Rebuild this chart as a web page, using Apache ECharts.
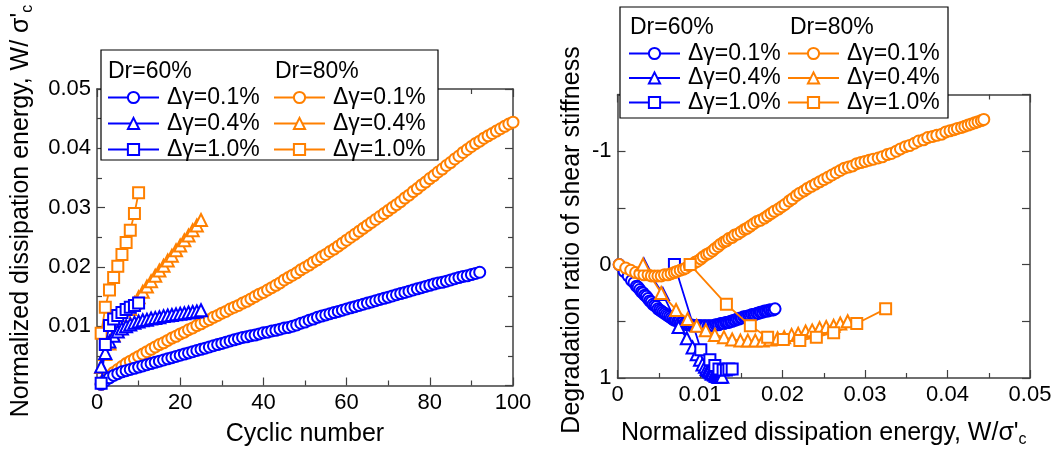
<!DOCTYPE html>
<html>
<head>
<meta charset="utf-8">
<title>Dissipation energy and shear stiffness degradation</title>
<script src="https://cdn.jsdelivr.net/npm/echarts@6/dist/echarts.min.js"></script>
<style>
  html, body { margin: 0; padding: 0; background: #fff; }
  #chart { width: 1058px; height: 453px; }
</style>
</head>
<body>
<div id="chart"></div>
<script>
// normalized dissipation energy W/σ'c per cycle (cycle number = index + 1)
const cycW60_01 = [
  0.0002, 0.0008, 0.0013, 0.0017, 0.0020, 0.0023, 0.0025, 0.0027, 0.0029, 0.0031,
  0.0033, 0.0035, 0.0037, 0.0039, 0.0041, 0.0043, 0.0045, 0.0047, 0.0049, 0.0051,
  0.0053, 0.0055, 0.0057, 0.0059, 0.0061, 0.0063, 0.0065, 0.0067, 0.0069, 0.0071,
  0.0073, 0.0075, 0.0077, 0.0079, 0.0081, 0.0082, 0.0084, 0.0085, 0.0087, 0.0089,
  0.0090, 0.0092, 0.0093, 0.0095, 0.0097, 0.0098, 0.0100, 0.0102, 0.0105, 0.0107,
  0.0110, 0.0112, 0.0115, 0.0117, 0.0119, 0.0121, 0.0123, 0.0125, 0.0127, 0.0129,
  0.0131, 0.0133, 0.0135, 0.0137, 0.0139, 0.0141, 0.0143, 0.0145, 0.0147, 0.0149,
  0.0151, 0.0153, 0.0155, 0.0157, 0.0159, 0.0161, 0.0163, 0.0165, 0.0167, 0.0169,
  0.0171, 0.0173, 0.0174, 0.0176, 0.0178, 0.0180, 0.0182, 0.0184, 0.0185, 0.0187,
  0.0189, 0.0191
];
const cycW60_04 = [
  0.0032, 0.0055, 0.0074, 0.0084, 0.0091, 0.0096, 0.0100, 0.0103, 0.0106, 0.0108,
  0.0110, 0.0111, 0.0113, 0.0114, 0.0115, 0.0117, 0.0118, 0.0119, 0.0120, 0.0121,
  0.0122, 0.0123, 0.0124, 0.0125, 0.0127
];
const cycW60_10 = [0.0004, 0.0069, 0.0101, 0.0112, 0.0118, 0.0123, 0.0128, 0.0132, 0.0135, 0.0139];
const cycW80_01 = [
  0.0002, 0.0010, 0.0016, 0.0022, 0.0027, 0.0032, 0.0037, 0.0041, 0.0045, 0.0049,
  0.0053, 0.0057, 0.0061, 0.0065, 0.0069, 0.0072, 0.0076, 0.0080, 0.0083, 0.0087,
  0.0090, 0.0094, 0.0097, 0.0101, 0.0104, 0.0108, 0.0111, 0.0115, 0.0118, 0.0122,
  0.0125, 0.0129, 0.0132, 0.0135, 0.0139, 0.0142, 0.0146, 0.0150, 0.0154, 0.0157,
  0.0161, 0.0165, 0.0169, 0.0173, 0.0178, 0.0182, 0.0186, 0.0190, 0.0195, 0.0199,
  0.0203, 0.0208, 0.0212, 0.0217, 0.0221, 0.0226, 0.0230, 0.0235, 0.0240, 0.0245,
  0.0250, 0.0255, 0.0260, 0.0265, 0.0270, 0.0275, 0.0280, 0.0285, 0.0290, 0.0295,
  0.0300, 0.0305, 0.0310, 0.0316, 0.0321, 0.0327, 0.0332, 0.0338, 0.0343, 0.0349,
  0.0354, 0.0360, 0.0365, 0.0371, 0.0376, 0.0382, 0.0387, 0.0393, 0.0398, 0.0403,
  0.0408, 0.0412, 0.0417, 0.0421, 0.0425, 0.0429, 0.0433, 0.0437, 0.0441, 0.0444
];
const cycW80_04 = [
  0.0031, 0.0053, 0.0071, 0.0085, 0.0096, 0.0107, 0.0118, 0.0129, 0.0139, 0.0149,
  0.0158, 0.0167, 0.0176, 0.0185, 0.0194, 0.0202, 0.0211, 0.0219, 0.0228, 0.0236,
  0.0245, 0.0253, 0.0262, 0.0270, 0.0279
];
const cycW80_10 = [0.0088, 0.0132, 0.0161, 0.0182, 0.0201, 0.0221, 0.0241, 0.0262, 0.0290, 0.0325];

// degradation ratio of shear stiffness, same points as above (null = not plotted)
const deg60_01 = [
  0.00, 0.06, 0.10, 0.14, 0.16, 0.19, 0.20, 0.22, 0.24, 0.25,
  0.27, 0.28, 0.30, 0.32, 0.33, 0.35, 0.36, 0.37, 0.39, 0.40,
  0.41, 0.42, 0.43, 0.44, 0.45, 0.46, 0.47, 0.48, 0.49, 0.49,
  0.50, 0.50, 0.51, 0.51, 0.52, 0.52, 0.53, 0.53, 0.53, 0.53,
  0.54, 0.54, 0.54, 0.54, 0.54, 0.54, 0.54, 0.54, 0.54, 0.54,
  0.54, 0.54, 0.54, 0.54, 0.53, 0.53, 0.53, 0.52, 0.52, 0.52,
  0.51, 0.51, 0.51, 0.50, 0.50, 0.49, 0.49, 0.48, 0.48, 0.47,
  0.47, 0.46, 0.46, 0.46, 0.45, 0.45, 0.44, 0.44, 0.44, 0.43,
  0.43, 0.42, 0.42, 0.42, 0.41, 0.41, 0.41, 0.40, 0.40, 0.40,
  0.40, 0.39
];
const deg60_04 = [
  0.00, 0.26, 0.55, 0.65, 0.73, 0.79, 0.84, 0.88, 0.90, 0.92,
  0.93, 0.94, 0.95, 0.96, 0.96, 0.97, 0.97, 0.98, 0.98, 0.98,
  0.99, 0.99, 0.99, 0.99, 0.99
];
const deg60_10 = [null, 0.00, 0.75, 0.84, 0.89, 0.92, 0.93, 0.93, 0.92, 0.92];
const deg80_01 = [
  0.00, 0.03, 0.05, 0.07, 0.08, 0.09, 0.09, 0.10, 0.10, 0.10,
  0.10, 0.09, 0.09, 0.08, 0.07, 0.06, 0.05, 0.04, 0.03, 0.01,
  0.00, -0.02, -0.03, -0.05, -0.07, -0.09, -0.10, -0.12, -0.14, -0.16,
  -0.18, -0.20, -0.21, -0.23, -0.24, -0.26, -0.27, -0.29, -0.31, -0.32,
  -0.34, -0.36, -0.38, -0.39, -0.41, -0.43, -0.45, -0.47, -0.49, -0.51,
  -0.53, -0.56, -0.58, -0.61, -0.63, -0.65, -0.67, -0.69, -0.71, -0.73,
  -0.75, -0.77, -0.79, -0.81, -0.83, -0.85, -0.86, -0.87, -0.89, -0.90,
  -0.91, -0.92, -0.93, -0.94, -0.95, -0.97, -0.98, -1.00, -1.02, -1.04,
  -1.05, -1.07, -1.09, -1.10, -1.12, -1.13, -1.14, -1.15, -1.17, -1.18,
  -1.19, -1.20, -1.21, -1.22, -1.23, -1.24, -1.25, -1.26, -1.27, -1.28
];
const deg80_04 = [
  0.00, 0.25, 0.40, 0.48, 0.54, 0.58, 0.62, 0.64, 0.66, 0.67,
  0.67, 0.67, 0.67, 0.66, 0.65, 0.64, 0.62, 0.61, 0.59, 0.58,
  0.56, 0.55, 0.54, 0.52, 0.50
];
const deg80_10 = [0.00, 0.35, 0.54, 0.64, 0.66, 0.67, 0.64, 0.60, 0.52, 0.39];

const BLUE = '#0000ff';
const ORANGE = '#ff8000';
const FONT = 'Arial, "Liberation Sans", sans-serif';
const GREY = '#404040';

// one entry per test case, orange first so blue sits on top in the left plot
const cases = [
  { name: 'Dr=80%, Δγ=0.1%', color: ORANGE, symbol: 'circle', size: 11, w: cycW80_01, r: deg80_01 },
  { name: 'Dr=80%, Δγ=0.4%', color: ORANGE, symbol: 'triangle', size: 12, w: cycW80_04, r: deg80_04 },
  { name: 'Dr=80%, Δγ=1.0%', color: ORANGE, symbol: 'rect', size: 11, w: cycW80_10, r: deg80_10 },
  { name: 'Dr=60%, Δγ=0.1%', color: BLUE, symbol: 'circle', size: 11, w: cycW60_01, r: deg60_01 },
  { name: 'Dr=60%, Δγ=0.4%', color: BLUE, symbol: 'triangle', size: 12, w: cycW60_04, r: deg60_04 },
  { name: 'Dr=60%, Δγ=1.0%', color: BLUE, symbol: 'rect', size: 11, w: cycW60_10, r: deg60_10 }
];

function lineSeries(c, xi, data, z) {
  return {
    type: 'line', name: c.name, xAxisIndex: xi, yAxisIndex: xi, data: data, z: z,
    symbol: c.symbol, symbolSize: c.size,
    itemStyle: { color: '#fff', borderColor: c.color, borderWidth: 2 },
    lineStyle: { color: c.color, width: 1.8 },
    emphasis: { disabled: true },
    animation: false
  };
}

let series = [];
cases.forEach(function (c) {
  let blue = c.color === BLUE;
  series.push(lineSeries(c, 0, c.w.map((v, i) => [i + 1, v]), blue ? 3 : 2));
  series.push(lineSeries(c, 2, c.w.map((v, i) => [v, c.r[i] === null ? '-' : c.r[i]]), blue ? 2 : 3));
});

function axis(gridIndex, position, min, max, interval, minorSplit, label, extra) {
  return Object.assign({
    gridIndex: gridIndex, position: position, type: 'value',
    min: min, max: max, interval: interval,
    axisLine: { show: true, onZero: false, lineStyle: { color: GREY, width: 1.5 } },
    axisTick: { show: true, inside: true, length: 8, lineStyle: { color: GREY, width: 1.2 } },
    minorTick: { show: minorSplit > 0, splitNumber: minorSplit || 5, length: 5, lineStyle: { color: GREY, width: 1.2 } },
    splitLine: { show: false },
    minorSplitLine: { show: false },
    axisLabel: label
      ? Object.assign({ color: '#000', fontSize: 22, fontFamily: FONT, margin: 6, showMinLabel: true, showMaxLabel: true }, label)
      : { show: false }
  }, extra || {});
}

const titleStyle = {
  color: '#000', fontSize: 25, fontFamily: FONT,
  rich: { sub: { fontSize: 16, fontFamily: FONT, color: '#000', padding: [14, 0, 0, 0] } }
};

function legendCol(names, left, top, gap) {
  return {
    data: names, left: left, top: top, orient: 'vertical', padding: 0,
    itemWidth: 51, itemHeight: 14, itemGap: gap, selectedMode: false, z: 60,
    formatter: function (name) { return name.split(', ')[1]; },
    textStyle: { color: '#000', fontSize: 23, lineHeight: 22, fontFamily: FONT, padding: [0, 0, 0, 3] }
  };
}
const names60 = cases.slice(3).map(c => c.name);
const names80 = cases.slice(0, 3).map(c => c.name);

function header(text, x, y) {
  return { type: 'text', x: x, y: y, z: 55,
    style: { text: text, fontSize: 23, fontFamily: FONT, fill: '#000', verticalAlign: 'middle' } };
}
function yTitle(text, x, y) {
  return { type: 'text', x: x, y: y, rotation: Math.PI / 2, z: 55,
    style: { text: text, fontSize: 25, fontFamily: FONT, fill: '#000', align: 'center', verticalAlign: 'middle',
      rich: { sub: { fontSize: 16, fontFamily: FONT, fill: '#000', padding: [14, 0, 0, 0] } } } };
}

const option = {
  backgroundColor: '#fff',
  animation: false,
  grid: [
    { left: 97, right: 545, top: 89, bottom: 67.5 },
    { left: 617.5, right: 28, top: 94.5, bottom: 66 }
  ],
  xAxis: [
    axis(0, 'bottom', 0, 100, 20, 2, {}, {
      name: 'Cyclic number', nameLocation: 'middle', nameGap: 36, nameTextStyle: titleStyle
    }),
    axis(0, 'top', 0, 100, 20, 2, null),
    axis(1, 'bottom', 0, 0.05, 0.01, 2, {}, {
      name: "Normalized dissipation energy, W/σ'{sub|c}", nameLocation: 'middle', nameGap: 40, nameTextStyle: titleStyle
    }),
    axis(1, 'top', 0, 0.05, 0.01, 2, null)
  ],
  yAxis: [
    axis(0, 'left', 0, 0.05, 0.01, 2, { showMinLabel: false }),
    axis(0, 'right', 0, 0.05, 0.01, 2, null),
    axis(1, 'left', -1.5, 1, 0.5, 0, {
      formatter: function (v) { return Number.isInteger(v) ? String(v) : ''; }
    }, { inverse: true }),
    axis(1, 'right', -1.5, 1, 0.5, 0, null, { inverse: true })
  ],
  legend: [
    legendCol(names60, 107, 86, 3),
    legendCol(names80, 273, 86, 3),
    legendCol(names60, 628, 42, 1.5),
    legendCol(names80, 787, 42, 1.5)
  ],
  graphic: [
    { type: 'rect', z: 50, shape: { x: 101, y: 50, width: 337, height: 110 },
      style: { fill: '#fff', stroke: '#000', lineWidth: 1.2 } },
    { type: 'rect', z: 50, shape: { x: 620, y: 7, width: 328, height: 111 },
      style: { fill: '#fff', stroke: '#000', lineWidth: 1.2 } },
    header('Dr=60%', 108, 72),
    header('Dr=80%', 275, 72),
    header('Dr=60%', 630, 28),
    header('Dr=80%', 790, 28),
    yTitle("Normalized dissipation energy, W/ σ'{sub|c}", 21, 211),
    yTitle('Degradation ratio of shear stiffness', 572, 240)
  ],
  series: series
};

let chart = echarts.init(document.getElementById('chart'), null, { renderer: 'canvas' });
chart.setOption(option);
</script>
</body>
</html>
